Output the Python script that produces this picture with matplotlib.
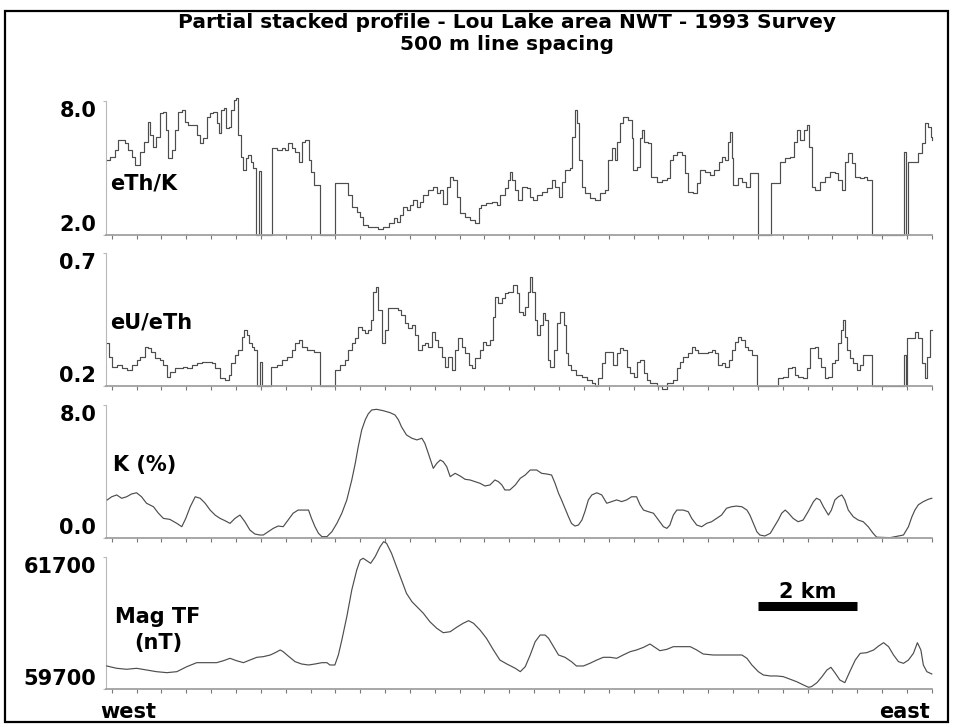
import numpy as np
import matplotlib.pyplot as plt

# ---- data (distance in km, west -> east) ----
thk_dist = [-0.10, -0.03, 0.07, 0.13, 0.27, 0.33, 0.40, 0.47, 0.57, 0.64, 0.74, 0.77, 0.84, 0.90, 0.97,
            1.04, 1.09, 1.14, 1.21, 1.27, 1.34, 1.41, 1.47, 1.54, 1.71, 1.78, 1.84, 1.91, 1.98, 2.04,
            2.11, 2.15, 2.19, 2.25, 2.30, 2.35, 2.41, 2.46, 2.51, 2.55, 2.61, 2.65, 2.70, 2.75, 2.80,
            2.85, 2.90, 2.97, 3.00, 3.22, 3.32, 3.42, 3.49, 3.55, 3.62, 3.69, 3.76, 3.82, 3.89, 3.96,
            4.00, 4.06, 4.19, 4.49, 4.76, 4.83, 4.93, 5.00, 5.06, 5.16, 5.26, 5.36, 5.46, 5.57, 5.67,
            5.73, 5.80, 5.87, 5.94, 6.00, 6.07, 6.14, 6.20, 6.27, 6.37, 6.47, 6.54, 6.61, 6.67, 6.74,
            6.81, 6.87, 6.94, 7.01, 7.11, 7.21, 7.31, 7.38, 7.44, 7.54, 7.65, 7.75, 7.81, 7.91, 7.98,
            8.01, 8.05, 8.11, 8.18, 8.25, 8.35, 8.42, 8.48, 8.55, 8.65, 8.75, 8.85, 8.92, 8.99, 9.05,
            9.12, 9.22, 9.26, 9.32, 9.36, 9.41, 9.46, 9.52, 9.62, 9.72, 9.83, 9.93, 9.99, 10.06, 10.13,
            10.16, 10.23, 10.29, 10.39, 10.46, 10.49, 10.56, 10.62, 10.66, 10.71, 10.80, 10.86, 10.97,
            11.07, 11.17, 11.23, 11.30, 11.37, 11.47, 11.54, 11.60, 11.70, 11.77, 11.84, 11.94, 12.04,
            12.11, 12.21, 12.27, 12.34, 12.39, 12.43, 12.47, 12.51, 12.61, 12.68, 12.77, 12.84, 13.01,
            13.26, 13.45, 13.55, 13.65, 13.72, 13.78, 13.85, 13.92, 13.98, 14.02, 14.09, 14.15, 14.25,
            14.35, 14.45, 14.55, 14.62, 14.69, 14.76, 14.82, 14.89, 14.96, 15.06, 15.13, 15.19, 15.29,
            15.94, 15.98, 16.03, 16.23, 16.30, 16.36, 16.43, 16.48, 16.50]
thk_val = [5.35, 5.5, 5.8, 6.24, 6.1, 5.8, 5.5, 5.13, 5.72, 6.17, 7.06, 6.47, 5.95, 6.4, 7.44,
           7.5, 6.7, 5.43, 5.8, 6.7, 7.5, 7.58, 7.06, 6.91, 6.47, 6.1, 6.32, 7.28, 7.44, 7.5,
           6.99, 6.54, 7.58, 7.66, 6.77, 6.84, 7.58, 8.03, 8.1, 6.47, 5.5, 4.9, 5.43, 5.57, 5.27,
           4.98, 2.0, 4.87, 2.0, 5.9, 5.8, 5.87, 5.8, 6.1, 5.87, 5.72, 5.27, 6.17, 6.24, 5.35,
           4.83, 4.23, 2.0, 4.31, 3.79, 3.26, 3.04, 2.82, 2.45, 2.37, 2.34, 2.25, 2.37, 2.55, 2.75,
           2.6, 2.89, 3.26, 3.12, 3.34, 3.56, 3.26, 3.49, 3.79, 4.01, 4.16, 3.86, 4.0, 3.4, 4.16,
           4.6, 4.46, 3.71, 2.97, 2.82, 2.67, 2.52, 3.19, 3.34, 3.42, 3.49, 3.34, 3.79, 4.09, 4.46,
           4.83, 4.46, 4.01, 3.56, 4.16, 4.09, 3.71, 3.56, 3.79, 3.94, 4.09, 4.46, 4.16, 3.71, 4.38,
           4.9, 4.98, 6.39, 7.58, 6.99, 5.35, 4.16, 3.86, 3.64, 3.56, 3.86, 4.01, 5.35, 5.87, 5.35,
           6.17, 6.99, 7.28, 7.14, 6.32, 4.9, 5.05, 6.32, 6.7, 6.17, 6.1, 4.6, 4.38,
           4.46, 4.53, 5.35, 5.57, 5.72, 5.57, 4.76, 3.94, 3.86, 4.31, 4.9, 4.83, 4.68,
           4.9, 5.27, 5.5, 5.35, 6.17, 6.61, 5.43, 4.23, 4.53, 4.38, 4.16, 4.76, 2.0,
           4.31, 5.27, 5.43, 5.5, 6.17, 6.7, 6.24, 6.7, 6.91, 5.95, 4.16, 4.01, 4.38,
           4.6, 4.83, 4.76, 4.46, 4.01, 5.27, 5.65, 5.2, 4.6, 4.53, 4.6, 4.46, 2.0,
           5.72, 2.0, 5.27, 5.65, 6.1, 6.99, 6.84, 6.39, 6.24]

uth_dist = [-0.10, -0.05, 0.00, 0.10, 0.20, 0.30, 0.40, 0.50, 0.57, 0.67, 0.74, 0.80, 0.87, 0.97, 1.04,
            1.11, 1.17, 1.27, 1.37, 1.44, 1.51, 1.61, 1.71, 1.81, 1.91, 2.01, 2.08, 2.18, 2.28, 2.35,
            2.41, 2.48, 2.55, 2.62, 2.66, 2.72, 2.77, 2.82, 2.86, 2.92, 2.98, 3.03, 3.20, 3.32, 3.42,
            3.52, 3.62, 3.69, 3.76, 3.82, 3.92, 4.06, 4.20, 4.49, 4.59, 4.69, 4.76, 4.83, 4.90, 4.96,
            5.03, 5.10, 5.16, 5.21, 5.26, 5.32, 5.36, 5.43, 5.50, 5.55, 5.67, 5.77, 5.83, 5.90, 5.97,
            6.04, 6.10, 6.17, 6.24, 6.30, 6.37, 6.44, 6.51, 6.57, 6.64, 6.71, 6.77, 6.84, 6.91, 6.97,
            7.04, 7.11, 7.18, 7.24, 7.31, 7.41, 7.48, 7.54, 7.61, 7.68, 7.71, 7.78, 7.85, 7.91, 7.98,
            8.08, 8.16, 8.20, 8.27, 8.32, 8.38, 8.42, 8.45, 8.52, 8.56, 8.62, 8.67, 8.72, 8.77, 8.82,
            8.89, 8.95, 9.02, 9.09, 9.14, 9.19, 9.25, 9.35, 9.46, 9.56, 9.66, 9.73, 9.79, 9.86, 9.93,
            10.03, 10.09, 10.16, 10.23, 10.29, 10.36, 10.43, 10.50, 10.56, 10.63, 10.70, 10.76, 10.83,
            10.97, 11.07, 11.17, 11.30, 11.37, 11.43, 11.50, 11.60, 11.67, 11.74, 11.80, 11.90, 12.00,
            12.07, 12.14, 12.20, 12.27, 12.34, 12.41, 12.47, 12.54, 12.61, 12.67, 12.74, 12.81, 12.88,
            12.99, 13.41, 13.51, 13.61, 13.68, 13.75, 13.81, 13.91, 13.98, 14.05, 14.15, 14.22, 14.28,
            14.35, 14.42, 14.49, 14.55, 14.62, 14.67, 14.71, 14.75, 14.80, 14.85, 14.92, 14.99, 15.05,
            15.11, 15.19, 15.29, 15.95, 15.98, 16.01, 16.10, 16.17, 16.23, 16.30, 16.36, 16.40, 16.46,
            16.50]
uth_val = [0.36, 0.31, 0.273, 0.279, 0.267, 0.26, 0.279, 0.298, 0.31, 0.348, 0.342, 0.329, 0.304, 0.298, 0.279,
           0.235, 0.254, 0.267, 0.267, 0.273, 0.267, 0.279, 0.285, 0.291, 0.29, 0.285, 0.267, 0.229, 0.223, 0.241,
           0.285, 0.317, 0.335, 0.385, 0.41, 0.392, 0.36, 0.348, 0.335, 0.2, 0.29, 0.2, 0.273, 0.279, 0.298,
           0.31, 0.335, 0.36, 0.373, 0.348, 0.335, 0.329, 0.2, 0.26, 0.279, 0.298, 0.335, 0.36, 0.379, 0.423,
           0.41, 0.398, 0.41, 0.448, 0.554, 0.573, 0.486, 0.36, 0.41, 0.492, 0.492, 0.486, 0.467, 0.436, 0.417,
           0.429, 0.392, 0.335, 0.354, 0.36, 0.348, 0.404, 0.373, 0.348, 0.31, 0.273, 0.31, 0.26, 0.335, 0.379,
           0.348, 0.323, 0.279, 0.267, 0.304, 0.335, 0.367, 0.354, 0.373, 0.46, 0.536, 0.511, 0.53, 0.548, 0.554,
           0.58, 0.548, 0.479, 0.467, 0.498, 0.554, 0.611, 0.554, 0.448, 0.392, 0.429, 0.473, 0.448, 0.298, 0.273,
           0.335, 0.436, 0.479, 0.429, 0.323, 0.279, 0.26, 0.241, 0.235, 0.223, 0.21, 0.2, 0.229, 0.285, 0.329,
           0.329, 0.279, 0.323, 0.342, 0.335, 0.273, 0.248, 0.235, 0.291, 0.298, 0.248, 0.223, 0.21,
           0.2, 0.19, 0.21, 0.223, 0.267, 0.291, 0.31, 0.323, 0.348, 0.335, 0.323, 0.323, 0.329,
           0.335, 0.323, 0.279, 0.285, 0.273, 0.298, 0.335, 0.367, 0.385, 0.373, 0.348, 0.335, 0.317,
           0.2, 0.229, 0.235, 0.267, 0.273, 0.241, 0.235, 0.229, 0.267, 0.342, 0.348, 0.304, 0.273,
           0.229, 0.235, 0.285, 0.298, 0.36, 0.41, 0.448, 0.385, 0.335, 0.304, 0.285, 0.26, 0.279,
           0.317, 0.317, 0.2, 0.317, 0.2, 0.379, 0.379, 0.404, 0.379, 0.285, 0.229, 0.31, 0.41,
           0.41]

k_dist = [-0.09, 0.00, 0.10, 0.20, 0.30, 0.40, 0.50, 0.60, 0.70, 0.84, 0.94, 1.04, 1.17, 1.31, 1.41,
          1.49, 1.58, 1.68, 1.78, 1.88, 1.98, 2.08, 2.18, 2.28, 2.38, 2.48, 2.58, 2.68, 2.78, 2.88,
          2.98, 3.05, 3.15, 3.25, 3.35, 3.45, 3.55, 3.65, 3.75, 3.86, 3.96, 4.02, 4.09, 4.16, 4.23,
          4.33, 4.43, 4.53, 4.63, 4.73, 4.83, 4.90, 4.96, 5.03, 5.10, 5.16, 5.23, 5.33, 5.46, 5.60,
          5.70, 5.77, 5.83, 5.93, 6.04, 6.14, 6.24, 6.30, 6.37, 6.47, 6.54, 6.61, 6.67, 6.74, 6.81,
          6.91, 7.01, 7.11, 7.21, 7.31, 7.41, 7.51, 7.61, 7.71, 7.78, 7.85, 7.91, 8.01, 8.12, 8.22,
          8.32, 8.42, 8.55, 8.65, 8.75, 8.85, 8.92, 8.99, 9.05, 9.12, 9.19, 9.25, 9.32, 9.39, 9.46,
          9.52, 9.59, 9.66, 9.76, 9.86, 9.96, 10.06, 10.16, 10.26, 10.36, 10.46, 10.56, 10.63, 10.70,
          10.80, 10.90, 11.00, 11.10, 11.17, 11.23, 11.30, 11.37, 11.50, 11.60, 11.67, 11.77, 11.87,
          11.97, 12.07, 12.17, 12.27, 12.37, 12.47, 12.57, 12.68, 12.78, 12.84, 12.91, 12.98, 13.04,
          13.14, 13.25, 13.31, 13.41, 13.48, 13.55, 13.61, 13.71, 13.81, 13.91, 14.01, 14.12, 14.18,
          14.25, 14.32, 14.42, 14.48, 14.55, 14.62, 14.69, 14.75, 14.82, 14.92, 15.02, 15.12, 15.22,
          15.32, 15.39, 15.66, 15.93, 16.03, 16.10, 16.16, 16.23, 16.33, 16.43, 16.50]
k_val = [2.29, 2.48, 2.59, 2.39, 2.48, 2.65, 2.72, 2.48, 2.09, 1.88, 1.49, 1.18, 1.12, 0.88, 0.68,
         1.18, 1.88, 2.48, 2.39, 2.09, 1.68, 1.38, 1.18, 1.04, 0.88, 1.18, 1.38, 0.98, 0.48, 0.24,
         0.18, 0.18, 0.38, 0.58, 0.72, 0.68, 1.08, 1.49, 1.68, 1.68, 1.68, 1.18, 0.68, 0.28, 0.08,
         0.08, 0.38, 0.88, 1.49, 2.29, 3.49, 4.49, 5.49, 6.5, 7.1, 7.46, 7.7, 7.74, 7.66, 7.54,
         7.4, 7.1, 6.69, 6.2, 6.0, 5.9, 6.0, 5.7, 5.09, 4.19, 4.49, 4.69, 4.59, 4.29, 3.69,
         3.89, 3.73, 3.53, 3.49, 3.39, 3.29, 3.13, 3.19, 3.49, 3.39, 3.19, 2.89, 2.89, 3.19, 3.59,
         3.79, 4.09, 4.09, 3.89, 3.85, 3.79, 3.29, 2.69, 2.29, 1.79, 1.28, 0.88, 0.72, 0.78, 1.08,
         1.58, 2.29, 2.59, 2.72, 2.59, 2.09, 2.19, 2.29, 2.19, 2.29, 2.48, 2.48, 2.0, 1.68,
         1.58, 1.49, 1.08, 0.68, 0.58, 0.78, 1.38, 1.68, 1.68, 1.58, 1.18, 0.78, 0.68,
         0.88, 0.98, 1.18, 1.38, 1.79, 1.88, 1.92, 1.88, 1.68, 1.38, 0.88, 0.38, 0.18,
         0.12, 0.28, 0.58, 1.08, 1.49, 1.68, 1.52, 1.18, 0.98, 1.08, 1.58, 2.19, 2.39,
         2.29, 1.88, 1.38, 1.68, 2.29, 2.48, 2.59, 2.29, 1.68, 1.28, 1.08, 0.98, 0.68,
         0.28, 0.05, 0.02, 0.18, 0.68, 1.28, 1.68, 2.0, 2.19, 2.33, 2.39]

mag_dist = [-0.10, 0.10, 0.30, 0.50, 0.70, 0.90, 1.11, 1.31, 1.51, 1.71, 1.91, 2.11, 2.25, 2.38, 2.51,
            2.65, 2.78, 2.92, 3.05, 3.19, 3.29, 3.39, 3.45, 3.55, 3.69, 3.82, 3.96, 4.09, 4.23, 4.33,
            4.39, 4.49, 4.56, 4.63, 4.73, 4.83, 4.93, 5.00, 5.06, 5.13, 5.21, 5.30, 5.40, 5.47, 5.53,
            5.63, 5.73, 5.83, 5.93, 6.04, 6.14, 6.27, 6.40, 6.54, 6.67, 6.81, 6.94, 7.07, 7.18, 7.28,
            7.41, 7.54, 7.68, 7.81, 7.95, 8.12, 8.22, 8.32, 8.42, 8.52, 8.62, 8.72, 8.79, 8.89, 8.99,
            9.12, 9.25, 9.35, 9.49, 9.62, 9.76, 9.89, 10.03, 10.16, 10.29, 10.43, 10.56, 10.70, 10.83,
            10.93, 11.03, 11.17, 11.30, 11.43, 11.64, 11.77, 11.90, 12.10, 12.31, 12.51, 12.68, 12.78,
            12.88, 13.01, 13.11, 13.25, 13.38, 13.51, 13.65, 13.78, 13.92, 14.02, 14.08, 14.19, 14.29,
            14.39, 14.47, 14.55, 14.65, 14.75, 14.85, 14.96, 15.06, 15.19, 15.33, 15.43, 15.53, 15.63,
            15.73, 15.83, 15.93, 16.03, 16.13, 16.21, 16.28, 16.33, 16.40, 16.50]
mag_val = [60048, 60013, 59998, 60013, 59987, 59962, 59947, 59962, 60037, 60098, 60098, 60098, 60128, 60164, 60128,
           60098, 60138, 60179, 60189, 60214, 60249, 60290, 60264, 60199, 60113, 60078, 60063, 60078, 60098, 60098,
           60063, 60063, 60214, 60441, 60793, 61197, 61499, 61650, 61676, 61640, 61600, 61700, 61852, 61927, 61902,
           61751, 61549, 61348, 61147, 61020, 60944, 60845, 60718, 60618, 60551, 60566, 60633, 60693, 60733, 60693,
           60592, 60466, 60290, 60138, 60078, 60013, 59962, 60037, 60214, 60415, 60516, 60516, 60466, 60340, 60214,
           60179, 60113, 60048, 60048, 60088, 60138, 60179, 60179, 60164, 60214, 60264, 60290, 60330, 60380,
           60330, 60279, 60300, 60340, 60340, 60340, 60290, 60229, 60214, 60214, 60214, 60214, 60164,
           60063, 59962, 59912, 59897, 59897, 59887, 59847, 59811, 59760, 59726, 59736, 59796, 59886,
           59987, 60028, 59947, 59836, 59796, 59962, 60138, 60239, 60249, 60290, 60350, 60400, 60340,
           60214, 60113, 60088, 60138, 60239, 60400, 60290, 60063, 59962, 59927]

panel_names = ['eTh/K', 'eU/eTh', 'K (%)', 'Mag TF\n(nT)']
panel_limits = [(2.0, 8.0), (0.2, 0.7), (0.0, 8.0), (59700, 61700)]
panel_ticklabels = [('2.0', '8.0'), ('0.2', '0.7'), ('0.0', '8.0'), ('59700', '61700')]

W, H = 954, 724
plt.rcParams['font.family'] = ['DejaVu Sans']
plt.rcParams['font.weight'] = 'bold'
fig = plt.figure(figsize=(W / 100, H / 100), dpi=100)

# panel frames in pixels: (top, bottom)
x_left, x_right = 106, 931.8
frames = [(100.7, 235), (253, 386), (405, 538), (556.7, 689)]

line_col = '#4d4d4d'
axis_col = '#a0a0a0'
series = [(thk_dist, thk_val, 'steps-post'), (uth_dist, uth_val, 'steps-post'),
          (k_dist, k_val, 'default'), (mag_dist, mag_val, 'default')]

axes = []
for i, (top, bot) in enumerate(frames):
    ax = fig.add_axes([x_left / W, 1 - bot / H, (x_right - x_left) / W, (bot - top) / H])
    axes.append(ax)
    d, v, ds = series[i]
    ax.plot(d, v, color=line_col, lw=0.85, drawstyle=ds, clip_on=False, zorder=3)
    lo, hi = panel_limits[i]
    ax.set_xlim(-0.115, 16.5)
    ax.set_ylim(lo, hi)
    ax.set_facecolor('none')
    for s in ['top', 'right']:
        ax.spines[s].set_visible(False)
    ax.spines['left'].set_color('#b8b8b8')
    ax.spines['left'].set_linewidth(0.8)
    ax.spines['bottom'].set_color(axis_col)
    ax.spines['bottom'].set_linewidth(1.3)
    ax.spines['bottom'].set_zorder(4)

    ax.set_xticks(np.arange(0, 16.51, 0.5))
    ax.tick_params(axis='x', direction='out', length=3, width=0.8, color='#777777', labelbottom=False)
    ax.set_yticks([lo, hi])
    ax.set_yticklabels(panel_ticklabels[i], fontsize=15, fontweight='bold')
    ax.tick_params(axis='y', direction='out', length=2, width=0.8, color='#b8b8b8', pad=5)
    labs = ax.get_yticklabels()
    labs[0].set_va('bottom')
    labs[1].set_va('top')

# curve names inside the panels
axes[0].text(0.005, 0.387, 'eTh/K', transform=axes[0].transAxes, fontsize=15, fontweight='bold',
             ha='left', va='center')
axes[1].text(0.005, 0.474, 'eU/eTh', transform=axes[1].transAxes, fontsize=15, fontweight='bold',
             ha='left', va='center')
axes[2].text(0.008, 0.549, 'K (%)', transform=axes[2].transAxes, fontsize=15, fontweight='bold',
             ha='left', va='center')
axes[3].text(0.063, 0.446, 'Mag TF\n(nT)', transform=axes[3].transAxes, fontsize=15, fontweight='bold',
             ha='center', va='center', multialignment='center', linespacing=1.35)

# 2 km scale bar
axes[3].plot([13.0, 15.0], [60955, 60955], color='black', lw=6.5, solid_capstyle='butt', clip_on=False)
axes[3].text(14.0, 61020, '2 km', fontsize=15, fontweight='bold', ha='center', va='bottom')

# west / east
fig.text(100 / W, 1 - 722 / H, 'west', fontsize=15, fontweight='bold', ha='left', va='bottom')
fig.text(930 / W, 1 - 722 / H, 'east', fontsize=15, fontweight='bold', ha='right', va='bottom')

# title
fig.text(507 / W, 1 - 23 / H, 'Partial stacked profile - Lou Lake area NWT - 1993 Survey',
         fontsize=14.5, fontweight='bold', ha='center', va='center')
fig.text(507 / W, 1 - 44 / H, '500 m line spacing', fontsize=14.5, fontweight='bold',
         ha='center', va='center')

# outer frame
fig.patches.append(plt.Rectangle((5 / W, 1 - 722 / H), 943 / W, 711 / H, transform=fig.transFigure,
                                 fill=False, edgecolor='black', lw=1.6, zorder=10))

fig.savefig('out.png', dpi=100)
